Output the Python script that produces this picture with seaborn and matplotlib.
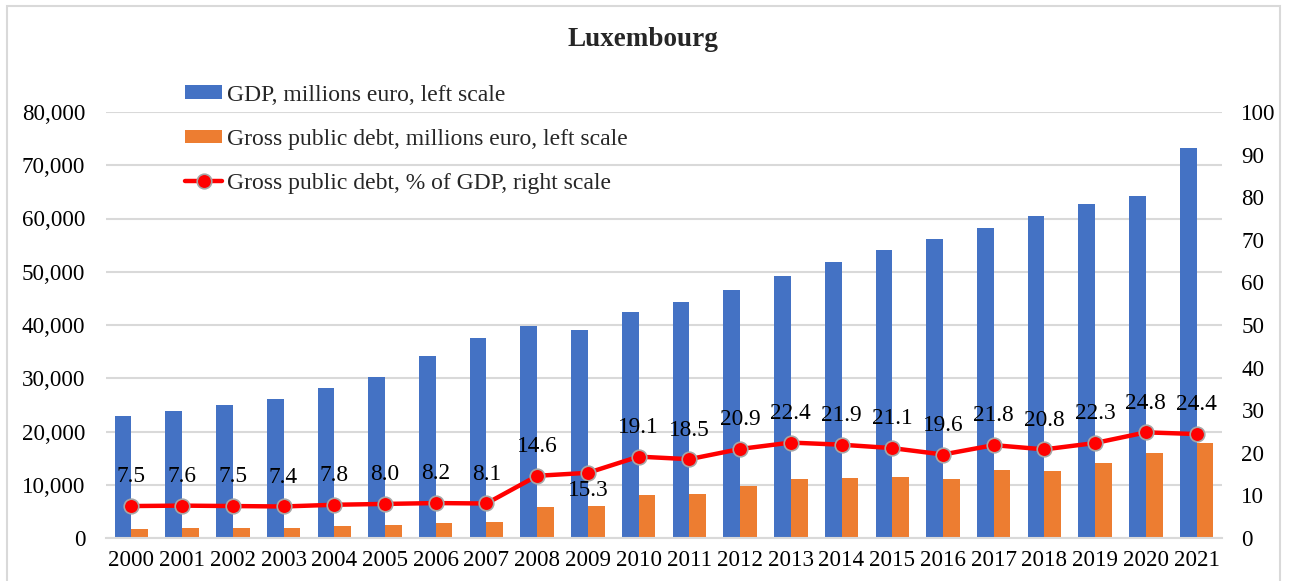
import numpy as np
import pandas as pd
import matplotlib
matplotlib.use("Agg")
import matplotlib.pyplot as plt
from matplotlib.patches import Rectangle
from matplotlib.ticker import FuncFormatter
import seaborn as sns

years = [str(y) for y in range(2000, 2022)]
gdp = [22970, 23850, 24980, 26100, 28170, 30230, 34120, 37620, 39870, 39060, 42380,
       44350, 46490, 49120, 51760, 54080, 56210, 58160, 60500, 62760, 64200, 73320]
debt = [1720, 1810, 1870, 1930, 2200, 2420, 2800, 3050, 5820, 5980, 8100,
        8200, 9720, 11000, 11340, 11410, 11020, 12680, 12580, 14000, 15920, 17890]
pct = [7.5, 7.6, 7.5, 7.4, 7.8, 8.0, 8.2, 8.1, 14.6, 15.3, 19.1,
       18.5, 20.9, 22.4, 21.9, 21.1, 19.6, 21.8, 20.8, 22.3, 24.8, 24.4]

lab_gdp = "GDP, millions euro, left scale"
lab_debt = "Gross public debt, millions euro, left scale"
lab_pct = "Gross public debt, % of GDP, right scale"

blue = "#4472C4"
orange = "#ED7D31"
grid_c = "#D9D9D9"

sns.set_theme(style="white")
plt.rcParams["font.family"] = ["Liberation Serif", "DejaVu Serif"]

W, H = 1290, 581
fig = plt.figure(figsize=(W / 100, H / 100), dpi=100)
ax = fig.add_axes([106 / W, 1 - 538 / H, (1222 - 106) / W, (538 - 112) / H])

df = pd.DataFrame({
    "Year": years * 2,
    "Value": gdp + debt,
    "Series": [lab_gdp] * len(years) + [lab_debt] * len(years),
})
sns.barplot(data=df, x="Year", y="Value", hue="Series", palette=[blue, orange],
            width=0.66, gap=0, saturation=1, linewidth=0, ax=ax)

ax.set_xlim(-0.5, len(years) - 0.5)
ax.set_ylim(0, 80000)
ax.set_yticks(np.arange(0, 80001, 10000))
ax.yaxis.set_major_formatter(FuncFormatter(lambda v, p: f"{int(v):,}"))
ax.grid(axis="y", color=grid_c, lw=1.5)
ax.set_axisbelow(True)
for s in ["top", "left", "right"]:
    ax.spines[s].set_visible(False)
ax.spines["bottom"].set_color(grid_c)
ax.spines["bottom"].set_linewidth(1.5)
ax.tick_params(axis="both", length=0, labelsize=16.6, colors="black")
ax.tick_params(axis="y", pad=15)
ax.tick_params(axis="x", pad=9)
ax.set_xlabel("")
ax.set_ylabel("")

ax2 = ax.twinx()
sns.lineplot(x=np.arange(len(years)), y=pct, ax=ax2, color="#FF0000", lw=3.2,
             marker="o", markersize=10.5, markeredgecolor="#A6A6A6",
             markeredgewidth=1.2, label=lab_pct)
ax2.set_ylim(0, 100)
ax2.set_yticks(np.arange(0, 101, 10))
ax2.grid(False)
for s in ax2.spines.values():
    s.set_visible(False)
ax2.tick_params(axis="y", length=0, labelsize=16.6, pad=14, colors="black")
ax2.set_ylabel("")

for i, v in enumerate(pct):
    if years[i] == "2009":
        off = -13
    else:
        off = 21
    ax2.annotate(f"{v:.1f}", (i, v), xytext=(0, off), textcoords="offset points",
                 ha="center", va="center", fontsize=16.8, color="black")

h1, l1 = ax.get_legend_handles_labels()
h2, l2 = ax2.get_legend_handles_labels()
if ax.legend_ is not None:
    ax.legend_.remove()
if ax2.legend_ is not None:
    ax2.legend_.remove()
fig.legend(h1 + h2, l1 + l2, loc="upper left", bbox_to_anchor=(185 / W, 1 - 84.5 / H),
           frameon=False, fontsize=17, handlelength=1.57, handleheight=0.5,
           handletextpad=0.2, labelspacing=0.98, borderpad=0, borderaxespad=0)

fig.text(643 / W, 1 - 40 / H, "Luxembourg", ha="center", va="center",
         fontsize=19.5, fontweight="bold")

fig.patches.append(Rectangle((7 / W, -0.02), (1280 - 7) / W, 1 - 6 / H + 0.02,
                             transform=fig.transFigure, fill=False, ec=grid_c, lw=1.5))

fig.savefig("out.png", dpi=100)
